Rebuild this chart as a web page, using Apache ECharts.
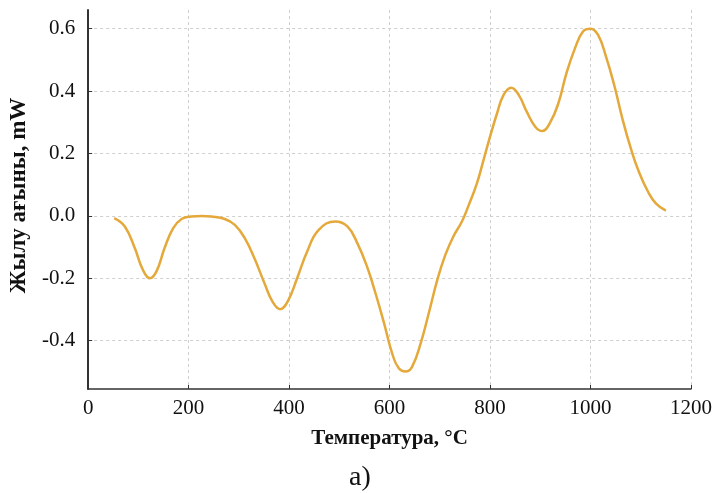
<!DOCTYPE html>
<html>
<head>
<meta charset="utf-8">
<script src="https://cdn.jsdelivr.net/npm/echarts@6/dist/echarts.min.js"></script>
<style>
html,body{margin:0;padding:0;background:#fff;}
#chart{width:715px;height:493px;}
</style>
</head>
<body>
<div id="chart"></div>
<script>
// Temperature, °C
var temperature = [52, 73, 93, 109, 123, 136, 152, 169, 186, 205, 227, 245, 272, 292, 312, 331, 351, 367, 382, 397, 416, 436, 459, 492, 516, 536, 555, 572, 589, 605, 618, 632, 645, 662, 678, 695, 711, 727, 744, 757, 774, 787, 800, 814, 827, 842, 857, 873, 890, 904, 919, 936, 952, 969, 985, 1000, 1015, 1031, 1048, 1064, 1081, 1097, 1114, 1130, 1150];
// Heat flow, mW
var heatFlow = [-0.007, -0.034, -0.104, -0.173, -0.200, -0.178, -0.104, -0.040, -0.010, -0.002, 0.000, -0.002, -0.010, -0.029, -0.072, -0.136, -0.216, -0.275, -0.299, -0.275, -0.200, -0.114, -0.045, -0.018, -0.034, -0.088, -0.162, -0.248, -0.344, -0.440, -0.488, -0.499, -0.483, -0.408, -0.312, -0.205, -0.125, -0.066, -0.018, 0.032, 0.105, 0.179, 0.254, 0.329, 0.388, 0.411, 0.388, 0.334, 0.286, 0.272, 0.297, 0.361, 0.457, 0.537, 0.591, 0.600, 0.580, 0.510, 0.414, 0.308, 0.212, 0.138, 0.079, 0.040, 0.017];
var yTicks = [-0.4, -0.2, 0.0, 0.2, 0.4, 0.6];
var xTitle = 'Температура, °C';
var yTitle = 'Жылу ағыны, mW';
var panelLabel = 'a)';

var seriesData = temperature.map(function (t, i) { return [t, heatFlow[i]]; });

var serif = 'Liberation Serif';
var chart = echarts.init(document.getElementById('chart'), null, {renderer: 'canvas'});
chart.setOption({
  animation: false,
  backgroundColor: '#ffffff',
  grid: {left: 86, right: 23, top: 10, bottom: 104, containLabel: false},
  xAxis: {
    type: 'value',
    min: 0, max: 1200, interval: 200,
    name: xTitle,
    nameLocation: 'middle',
    nameGap: 39,
    nameTextStyle: {fontFamily: serif, fontWeight: 'bold', fontSize: 21, color: '#111'},
    axisLine: {show: true, onZero: false, lineStyle: {color: '#333', width: 1.5}},
    axisTick: {show: true, inside: true, length: 4, lineStyle: {color: '#333'}},
    axisLabel: {fontFamily: serif, fontSize: 21, color: '#111', margin: 9,
      formatter: function (v) { return String(v); }},
    splitLine: {show: true, lineStyle: {color: '#cfcfcf', type: [3, 3], width: 1}}
  },
  yAxis: {
    type: 'value',
    min: -0.555, max: 0.66,
    name: yTitle,
    nameLocation: 'middle',
    nameRotate: 90,
    nameGap: 54,
    nameTextStyle: {fontFamily: serif, fontWeight: 'bold', fontSize: 23, color: '#111', padding: [0, 0, 0, 8]},
    axisLine: {show: true, lineStyle: {color: '#333', width: 2}},
    axisTick: {show: true, inside: true, length: 4, customValues: yTicks, lineStyle: {color: '#333'}},
    axisLabel: {fontFamily: serif, fontSize: 21, color: '#111', margin: 13, customValues: yTicks,
      formatter: function (v) { return v.toFixed(1); }},
    splitLine: {show: true, lineStyle: {color: '#cfcfcf', type: [3, 3], width: 1}}
  },
  graphic: [{
    type: 'text', x: 360, y: 478,
    style: {text: panelLabel, fontFamily: serif, fontSize: 28, fill: '#111', align: 'center', verticalAlign: 'middle'}
  }],
  series: [{
    type: 'line',
    data: seriesData,
    smooth: 0.45,
    showSymbol: false,
    lineStyle: {color: '#E4A93A', width: 2.5},
    clip: true
  }]
});
</script>
</body>
</html>
